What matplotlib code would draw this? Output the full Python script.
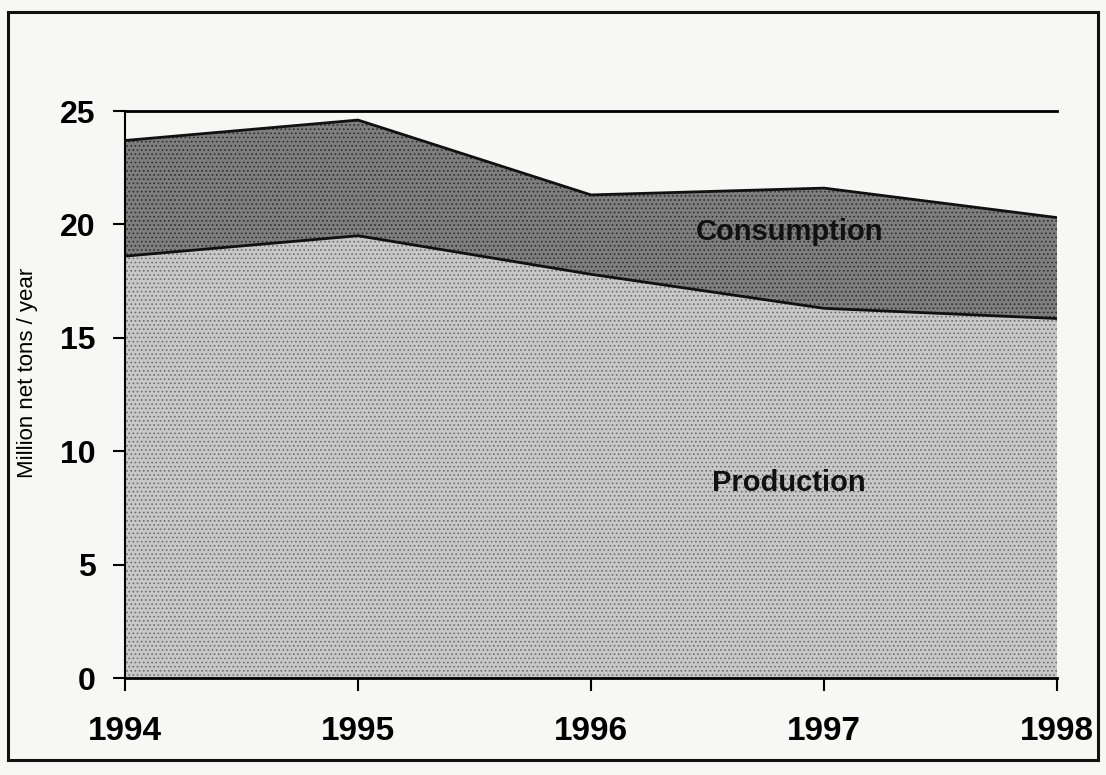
import matplotlib
matplotlib.use("Agg")
import matplotlib.pyplot as plt
from matplotlib.patches import Rectangle

years = [1994, 1995, 1996, 1997, 1998]
production = [18.6, 19.5, 17.8, 16.3, 15.85]
consumption = [23.7, 24.6, 21.3, 21.6, 20.3]
yticks = [0, 5, 10, 15, 20, 25]

plt.rcParams['font.family'] = ['Liberation Sans', 'DejaVu Sans']
plt.rcParams['hatch.linewidth'] = 0.7

fig = plt.figure(figsize=(11.06, 7.75), dpi=100)
fig.patch.set_facecolor('#f7f7f5')
ax = fig.add_axes([125/1106, 1 - 678/775, (1057-125)/1106, (678-111)/775])
ax.set_facecolor('#f7f7f5')

ax.fill_between(years, production, consumption, facecolor='#7e7e7e',
                edgecolor='#2e2e2e', hatch='....', linewidth=0)
ax.fill_between(years, 0, production, facecolor='#c8c8c8',
                edgecolor='#6e6e6e', hatch='....', linewidth=0)
ax.plot(years, consumption, color='#111111', lw=2)
ax.plot(years, production, color='#111111', lw=2)

ax.set_xlim(1994, 1998)
ax.set_ylim(0, 25)
ax.set_xticks(years)
ax.set_yticks(yticks)
ax.set_xticklabels([str(y) for y in years], fontsize=24, fontweight='bold')
ax.set_yticklabels([str(v) for v in yticks], fontsize=23, fontweight='bold')
ax.tick_params(axis='x', direction='out', length=9, width=1.5, pad=18)
ax.tick_params(axis='y', direction='out', length=9, width=1.5, pad=12)
ax.spines['right'].set_visible(False)
ax.spines['top'].set_linewidth(2)
ax.spines['left'].set_linewidth(1.5)
ax.spines['bottom'].set_linewidth(2)

ax.set_ylabel('Million net tons / year', fontsize=16)
ax.yaxis.set_label_coords((38 - 125) / 932, (678 - 373) / 567)

ax.text(1996.85, 19.65, 'Consumption', fontsize=21, fontweight='bold',
        ha='center', va='center', color='#111111')
ax.text(1996.85, 8.6, 'Production', fontsize=21, fontweight='bold',
        ha='center', va='center', color='#111111')

fig.patches.append(Rectangle((8/1106, 1 - 760/775), (1098-8)/1106, (760-12)/775,
                             transform=fig.transFigure, fill=False,
                             edgecolor='#111111', lw=2.2))

fig.savefig('out.png', dpi=100, facecolor=fig.get_facecolor())
